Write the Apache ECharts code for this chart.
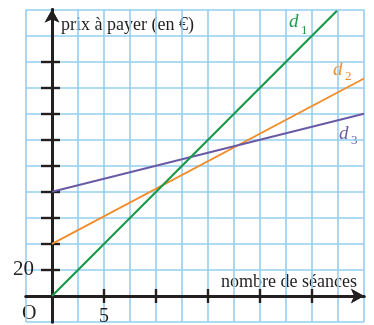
<!DOCTYPE html>
<html>
<head>
<meta charset="utf-8">
<script src="https://cdn.jsdelivr.net/npm/echarts@6/dist/echarts.min.js"></script>
<style>
html,body{margin:0;padding:0;background:#fff;}
#c{width:374px;height:325px;}
</style>
</head>
<body>
<div id="c"></div>
<script>
// Data
const xD1 = [0, 27.4];
const yD1 = [0, 219];
const xD2 = [0, 30];
const yD2 = [40, 167];
const xD3 = [0, 30];
const yD3 = [80, 140];
const xTickValues = [5, 10, 15, 20, 25];
const yTickValues = [20, 40, 60, 80, 100, 120, 140, 160, 180];
const xLabelValues = [5];
const yLabelValues = [20];

const toPairs = (xs, ys) => xs.map((x, i) => [x, ys[i]]);

const INK = '#231f20';
const FONT = 'Liberation Serif';
const GRIDC = '#95cff1';

const xBase = { type: 'value', min: -2.5, max: 30, interval: 2.5, position: 'bottom' };
const yBase = { type: 'value', min: -20, max: 220, interval: 20, position: 'left' };
const axisLineStyle = { color: INK, width: 3 };

const chart = echarts.init(document.getElementById('c'), null, { renderer: 'canvas' });
chart.setOption({
  animation: false,
  backgroundColor: '#fff',
  grid: { left: 26, right: 10, top: 9.5, bottom: 3, containLabel: false, outerBoundsMode: 'none' },
  xAxis: [
    Object.assign({}, xBase, {
      axisLine: { show: false, onZero: false }, axisTick: { show: false }, axisLabel: { show: false },
      splitLine: { show: true, lineStyle: { color: GRIDC, width: 1.6 } }
    }),
    Object.assign({}, xBase, {
      axisLine: { show: true, onZero: true, lineStyle: axisLineStyle, symbol: ['none', 'arrow'], symbolSize: [11, 13] },
      axisTick: { show: true, customValues: xTickValues, inside: false, length: 7, lineStyle: { color: INK, width: 2.4 } },
      axisLabel: { show: true, customValues: xLabelValues, margin: -15, fontSize: 20, fontFamily: FONT, color: INK },
      splitLine: { show: false }
    }),
    Object.assign({}, xBase, {
      axisLine: { show: true, onZero: true, lineStyle: axisLineStyle, symbol: ['none', 'arrow'], symbolSize: [11, 13] },
      axisTick: { show: true, customValues: xTickValues, inside: true, length: 7, lineStyle: { color: INK, width: 2.4 } },
      axisLabel: { show: false },
      splitLine: { show: false }
    })
  ],
  yAxis: [
    Object.assign({}, yBase, {
      axisLine: { show: false, onZero: false }, axisTick: { show: false }, axisLabel: { show: false },
      splitLine: { show: true, lineStyle: { color: GRIDC, width: 1.6 } }
    }),
    Object.assign({}, yBase, {
      axisLine: { show: true, onZero: true, lineStyle: axisLineStyle, symbol: ['none', 'arrow'], symbolSize: [11, 13] },
      axisTick: { show: true, customValues: yTickValues, inside: false, length: 11, lineStyle: { color: INK, width: 2.4 } },
      axisLabel: { show: true, customValues: yLabelValues, margin: -8, fontSize: 21, fontFamily: FONT, color: INK },
      splitLine: { show: false }
    }),
    Object.assign({}, yBase, {
      axisLine: { show: true, onZero: true, lineStyle: axisLineStyle, symbol: ['none', 'arrow'], symbolSize: [11, 13] },
      axisTick: { show: true, customValues: yTickValues, inside: true, length: 8, lineStyle: { color: INK, width: 2.4 } },
      axisLabel: { show: false },
      splitLine: { show: false }
    })
  ],
  series: [
    { name: 'd1', type: 'line', xAxisIndex: 0, yAxisIndex: 0, data: toPairs(xD1, yD1), symbol: 'none',
      lineStyle: { color: '#1c9a4b', width: 2.2 }, z: 5 },
    { name: 'd2', type: 'line', xAxisIndex: 0, yAxisIndex: 0, data: toPairs(xD2, yD2), symbol: 'none',
      lineStyle: { color: '#f28c28', width: 1.8 }, z: 4 },
    { name: 'd3', type: 'line', xAxisIndex: 0, yAxisIndex: 0, data: toPairs(xD3, yD3), symbol: 'none',
      lineStyle: { color: '#6a5aa6', width: 2 }, z: 4 }
  ],
  graphic: [
    { type: 'text', left: 61, top: 16, style: { text: 'prix à payer (en €)', font: '18px "Liberation Serif"', fill: INK } },
    { type: 'text', left: 221, top: 273, style: { text: 'nombre de séances', font: '18px "Liberation Serif"', fill: INK } },
    { type: 'text', left: 22, top: 304, style: { text: 'O', font: '20px "Liberation Serif"', fill: INK } },
    { type: 'text', left: 289, top: 12, style: { text: 'd', font: 'italic 19px "Liberation Serif"', fill: '#1c9a4b' } },
    { type: 'text', left: 301, top: 24, style: { text: '1', font: '13px "Liberation Serif"', fill: '#1c9a4b' } },
    { type: 'text', left: 333, top: 60, style: { text: 'd', font: 'italic 19px "Liberation Serif"', fill: '#f28c28' } },
    { type: 'text', left: 345, top: 70, style: { text: '2', font: '13px "Liberation Serif"', fill: '#f28c28' } },
    { type: 'text', left: 339, top: 124, style: { text: 'd', font: 'italic 19px "Liberation Serif"', fill: '#6a5aa6' } },
    { type: 'text', left: 351, top: 134, style: { text: '3', font: '13px "Liberation Serif"', fill: '#6a5aa6' } }
  ]
});
</script>
</body>
</html>
